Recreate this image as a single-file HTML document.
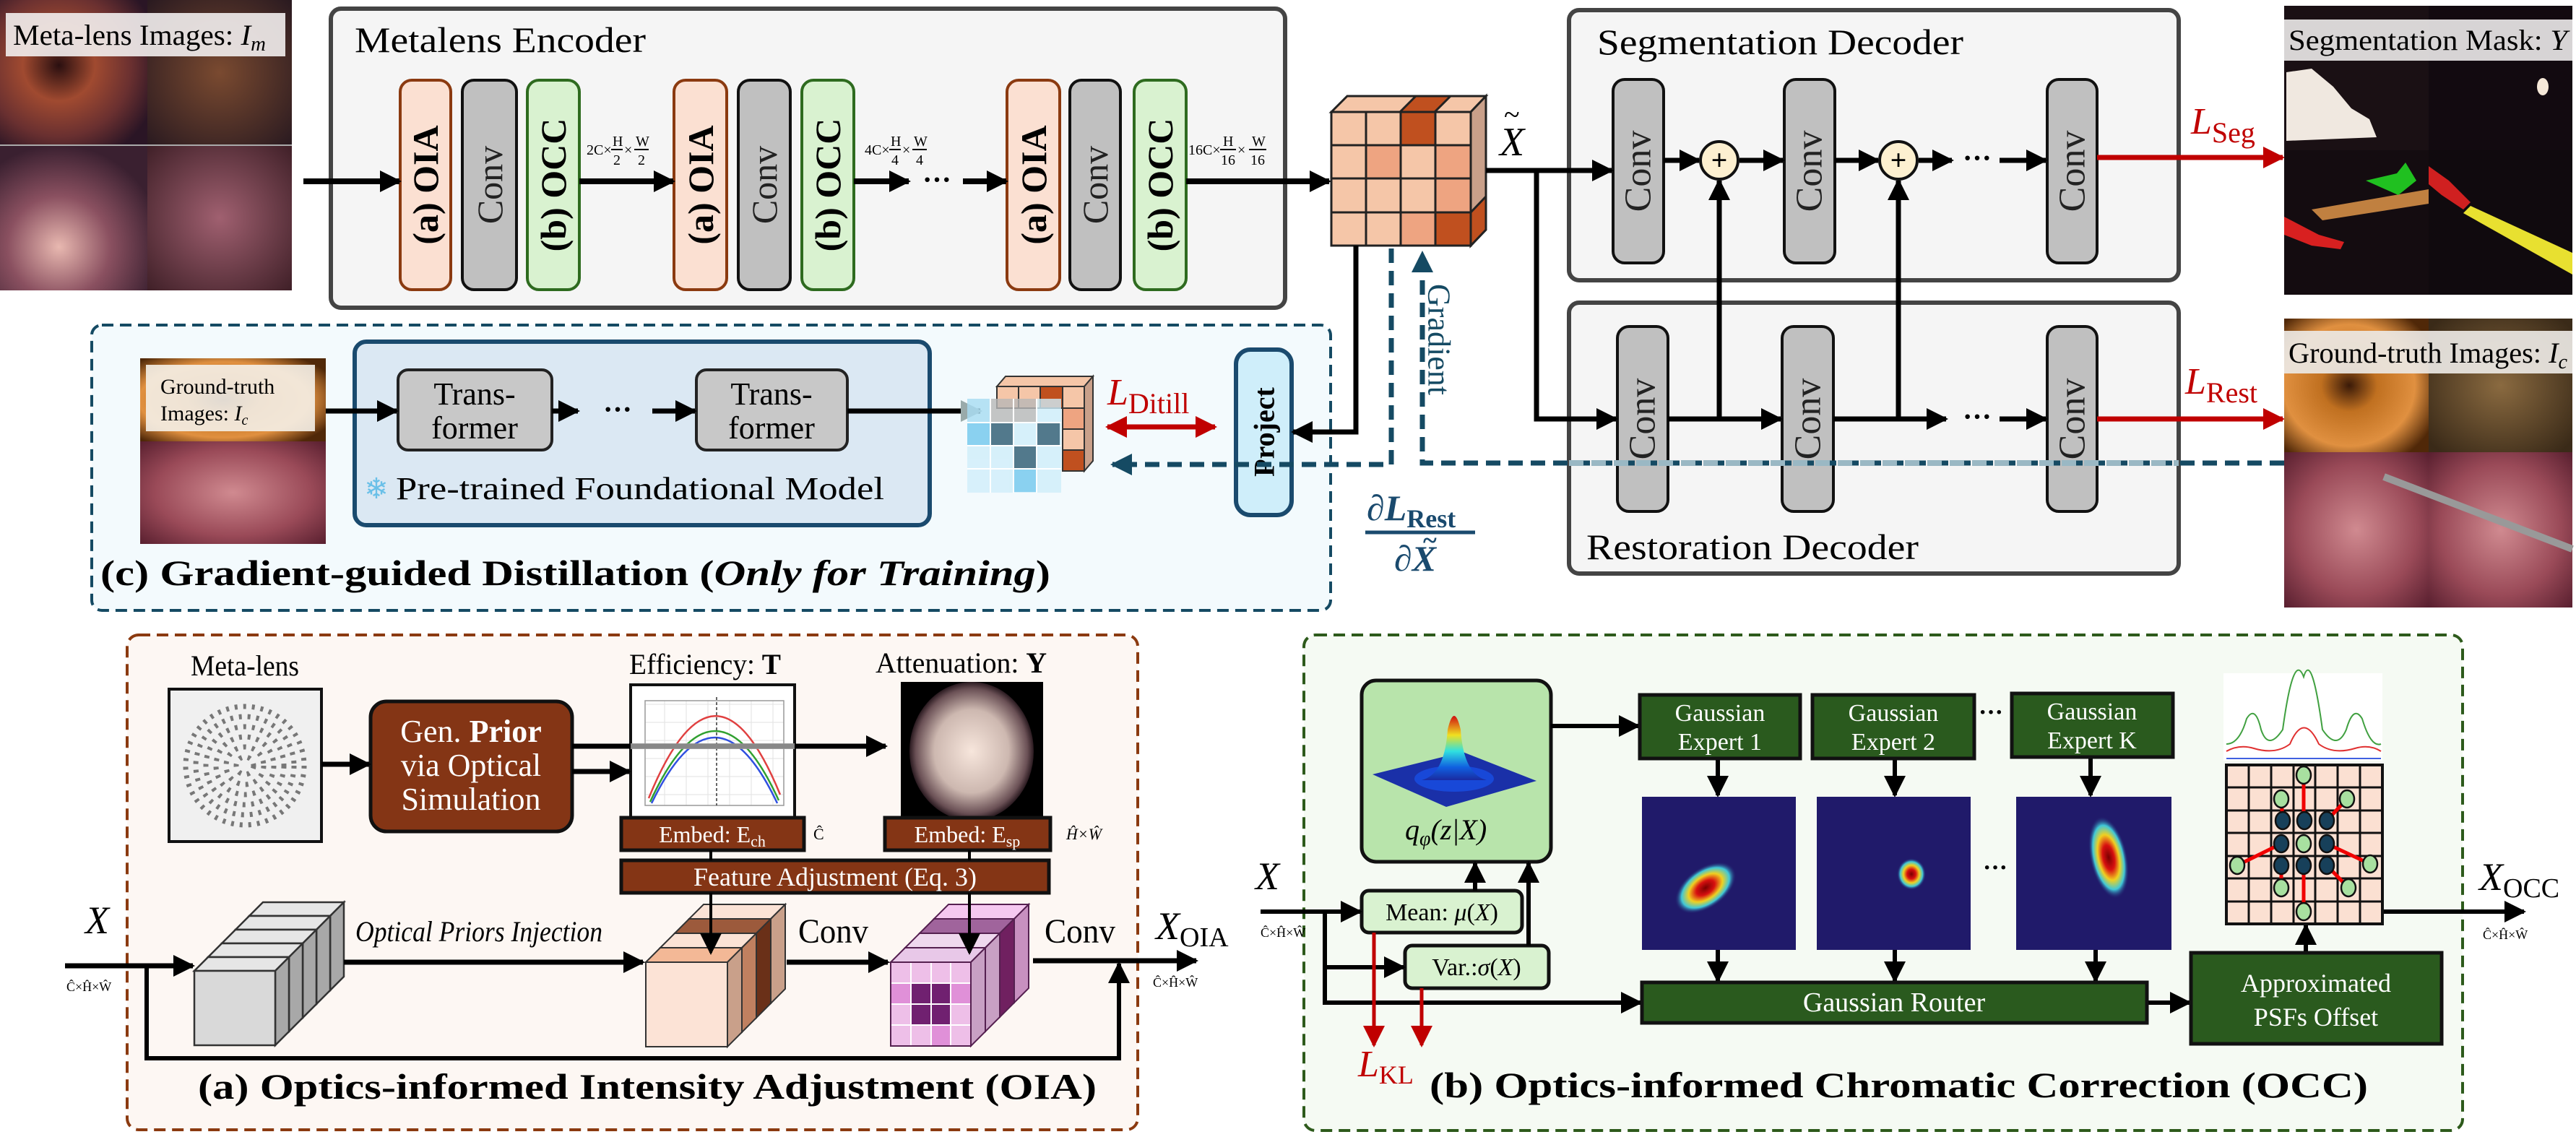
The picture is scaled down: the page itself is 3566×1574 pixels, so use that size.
<!DOCTYPE html>
<html><head><meta charset="utf-8"><style>
html,body{margin:0;padding:0;background:#fff}
svg{display:block}
text{font-family:"Liberation Serif",serif}
</style></head><body>
<svg width="3566" height="1574" viewBox="0 0 3566 1574" xmlns="http://www.w3.org/2000/svg">
<defs>
<marker id="ab" viewBox="0 0 10 10" refX="9" refY="5" markerWidth="30" markerHeight="30" markerUnits="userSpaceOnUse" orient="auto-start-reverse"><path d="M0,0 L10,5 L0,10 z" fill="#000"/></marker>
<marker id="ar" viewBox="0 0 10 10" refX="9" refY="5" markerWidth="30" markerHeight="30" markerUnits="userSpaceOnUse" orient="auto-start-reverse"><path d="M0,0 L10,5 L0,10 z" fill="#c00000"/></marker>
<marker id="at" viewBox="0 0 10 10" refX="9" refY="5" markerWidth="30" markerHeight="30" markerUnits="userSpaceOnUse" orient="auto-start-reverse"><path d="M0,0 L10,5 L0,10 z" fill="#154a63"/></marker>
<marker id="ag" viewBox="0 0 10 10" refX="9" refY="5" markerWidth="30" markerHeight="30" markerUnits="userSpaceOnUse" orient="auto"><path d="M0,0 L10,5 L0,10 z" fill="#9aa"/></marker>
<radialGradient id="p1" cx="40%" cy="45%" r="70%"><stop offset="0" stop-color="#2a0f10"/><stop offset=".35" stop-color="#a04a30"/><stop offset=".7" stop-color="#6a3030"/><stop offset="1" stop-color="#2a1525"/></radialGradient>
<radialGradient id="p2" cx="50%" cy="50%" r="70%"><stop offset="0" stop-color="#7a4a30"/><stop offset="1" stop-color="#2a1a20"/></radialGradient>
<radialGradient id="p3" cx="40%" cy="70%" r="70%"><stop offset="0" stop-color="#e8b8b0"/><stop offset=".5" stop-color="#8a5060"/><stop offset="1" stop-color="#3a2030"/></radialGradient>
<radialGradient id="p4" cx="50%" cy="50%" r="70%"><stop offset="0" stop-color="#a06070"/><stop offset="1" stop-color="#402028"/></radialGradient>
<radialGradient id="g1" cx="45%" cy="50%" r="65%"><stop offset="0" stop-color="#3a1a08"/><stop offset=".3" stop-color="#c07020"/><stop offset=".7" stop-color="#e09040"/><stop offset="1" stop-color="#502808"/></radialGradient>
<radialGradient id="g2" cx="50%" cy="50%" r="65%"><stop offset="0" stop-color="#8a6a40"/><stop offset="1" stop-color="#3a2a18"/></radialGradient>
<radialGradient id="g3" cx="50%" cy="50%" r="70%"><stop offset="0" stop-color="#d08a90"/><stop offset=".6" stop-color="#9a4a58"/><stop offset="1" stop-color="#5a2030"/></radialGradient>
<radialGradient id="att" cx="50%" cy="50%" r="50%"><stop offset="0" stop-color="#f7e6dc"/><stop offset=".6" stop-color="#cdb8b0"/><stop offset=".9" stop-color="#6a5055"/><stop offset="1" stop-color="#2a1a20"/></radialGradient>
<radialGradient id="hm" cx="50%" cy="50%" r="50%"><stop offset="0" stop-color="#7a0000"/><stop offset=".3" stop-color="#d81010"/><stop offset=".55" stop-color="#f0d020"/><stop offset=".78" stop-color="#40c8d8"/><stop offset="1" stop-color="#201a6a" stop-opacity="0"/></radialGradient>
<linearGradient id="cone" x1="0" y1="0" x2="0" y2="1"><stop offset="0" stop-color="#d01010"/><stop offset=".3" stop-color="#f0e020"/><stop offset=".55" stop-color="#30e0e0"/><stop offset=".8" stop-color="#1060e0"/><stop offset="1" stop-color="#1a2aa0"/></linearGradient>
</defs>

<!-- ===== Top-left metalens images ===== -->
<rect x="0" y="0" width="204" height="201" fill="url(#p1)"/>
<rect x="204" y="0" width="200" height="201" fill="url(#p2)"/>
<rect x="0" y="201" width="204" height="201" fill="url(#p3)"/>
<rect x="204" y="201" width="200" height="201" fill="url(#p4)"/>
<line x1="0" y1="201" x2="404" y2="201" stroke="#aaa" stroke-width="2"/>
<rect x="8" y="18" width="387" height="60" fill="#f2eeee" opacity=".9"/>
<text x="18" y="62" font-size="40" textLength="350" lengthAdjust="spacingAndGlyphs">Meta-lens Images: <tspan font-style="italic">I</tspan><tspan font-style="italic" font-size="28" dy="8">m</tspan></text>

<!-- ===== Metalens Encoder ===== -->
<rect x="458" y="12" width="1321" height="414" rx="14" fill="#f5f5f5" stroke="#444" stroke-width="6"/>
<text x="491" y="72" font-size="50" textLength="403" lengthAdjust="spacingAndGlyphs">Metalens Encoder</text>
<g stroke-width="4">
<rect x="554" y="111" width="70" height="290" rx="16" fill="#fbe0d2" stroke="#8b3a10"/>
<rect x="640" y="111" width="75" height="290" rx="16" fill="#c0c0c0" stroke="#111"/>
<rect x="730" y="111" width="72" height="290" rx="16" fill="#d9f2d0" stroke="#2e6b1f"/>
<rect x="933" y="111" width="73" height="290" rx="16" fill="#fbe0d2" stroke="#8b3a10"/>
<rect x="1022" y="111" width="72" height="290" rx="16" fill="#c0c0c0" stroke="#111"/>
<rect x="1110" y="111" width="72" height="290" rx="16" fill="#d9f2d0" stroke="#2e6b1f"/>
<rect x="1394" y="111" width="73" height="290" rx="16" fill="#fbe0d2" stroke="#8b3a10"/>
<rect x="1481" y="111" width="70" height="290" rx="16" fill="#c0c0c0" stroke="#111"/>
<rect x="1570" y="111" width="72" height="290" rx="16" fill="#d9f2d0" stroke="#2e6b1f"/>
</g>
<g font-size="50" text-anchor="middle" dominant-baseline="central">
<text transform="translate(589,256) rotate(-90)" font-weight="bold">(a) OIA</text>
<text transform="translate(678,256) rotate(-90)" fill="#222">Conv</text>
<text transform="translate(766,256) rotate(-90)" font-weight="bold">(b) OCC</text>
<text transform="translate(970,256) rotate(-90)" font-weight="bold">(a) OIA</text>
<text transform="translate(1058,256) rotate(-90)" fill="#222">Conv</text>
<text transform="translate(1146,256) rotate(-90)" font-weight="bold">(b) OCC</text>
<text transform="translate(1431,256) rotate(-90)" font-weight="bold">(a) OIA</text>
<text transform="translate(1516,256) rotate(-90)" fill="#222">Conv</text>
<text transform="translate(1606,256) rotate(-90)" font-weight="bold">(b) OCC</text>
</g>
<g stroke="#000" stroke-width="8" marker-end="url(#ab)">
<line x1="420" y1="251" x2="553" y2="251"/>
<line x1="802" y1="251" x2="932" y2="251"/>
<line x1="1182" y1="251" x2="1258" y2="251"/>
<line x1="1333" y1="251" x2="1393" y2="251"/>
<line x1="1642" y1="251" x2="1840" y2="251"/>
</g>
<text x="1297" y="262" font-size="40" text-anchor="middle" font-weight="bold">···</text>

<!-- fraction labels -->
<g font-size="20">
<g transform="translate(812,207)"><text x="0" y="7">2C×</text><text x="36" y="-5">H</text><line x1="34" y1="0" x2="50" y2="0" stroke="#000" stroke-width="2"/><text x="37" y="21">2</text><text x="52" y="7">×</text><text x="68" y="-5">W</text><line x1="66" y1="0" x2="86" y2="0" stroke="#000" stroke-width="2"/><text x="71" y="21">2</text></g>
<g transform="translate(1197,207)"><text x="0" y="7">4C×</text><text x="36" y="-5">H</text><line x1="34" y1="0" x2="50" y2="0" stroke="#000" stroke-width="2"/><text x="37" y="21">4</text><text x="52" y="7">×</text><text x="68" y="-5">W</text><line x1="66" y1="0" x2="86" y2="0" stroke="#000" stroke-width="2"/><text x="71" y="21">4</text></g>
<g transform="translate(1645,207)"><text x="0" y="7">16C×</text><text x="48" y="-5">H</text><line x1="44" y1="0" x2="66" y2="0" stroke="#000" stroke-width="2"/><text x="45" y="21">16</text><text x="68" y="7">×</text><text x="88" y="-5">W</text><line x1="84" y1="0" x2="108" y2="0" stroke="#000" stroke-width="2"/><text x="86" y="21">16</text></g>
<g transform="translate(2329,167)"><text x="0" y="7">8C×</text><text x="36" y="-5">H</text><line x1="34" y1="0" x2="50" y2="0" stroke="#000" stroke-width="2"/><text x="37" y="21">8</text><text x="52" y="7">×</text><text x="68" y="-5">W</text><line x1="66" y1="0" x2="86" y2="0" stroke="#000" stroke-width="2"/><text x="71" y="21">8</text></g>
<g transform="translate(2552,167)"><text x="0" y="7">4C×</text><text x="36" y="-5">H</text><line x1="34" y1="0" x2="50" y2="0" stroke="#000" stroke-width="2"/><text x="37" y="21">4</text><text x="52" y="7">×</text><text x="68" y="-5">W</text><line x1="66" y1="0" x2="86" y2="0" stroke="#000" stroke-width="2"/><text x="71" y="21">4</text></g>
<g transform="translate(2329,616)"><text x="0" y="7">8C×</text><text x="36" y="-5">H</text><line x1="34" y1="0" x2="50" y2="0" stroke="#000" stroke-width="2"/><text x="37" y="21">8</text><text x="52" y="7">×</text><text x="68" y="-5">W</text><line x1="66" y1="0" x2="86" y2="0" stroke="#000" stroke-width="2"/><text x="71" y="21">8</text></g>
<g transform="translate(2549,616)"><text x="0" y="7">4C×</text><text x="36" y="-5">H</text><line x1="34" y1="0" x2="50" y2="0" stroke="#000" stroke-width="2"/><text x="37" y="21">4</text><text x="52" y="7">×</text><text x="68" y="-5">W</text><line x1="66" y1="0" x2="86" y2="0" stroke="#000" stroke-width="2"/><text x="71" y="21">4</text></g>
<text x="2920" y="186">N×H×W</text>
<text x="2922" y="620">3×H×W</text>
</g>

<!-- ===== Cube X~ ===== -->
<g stroke="#222" stroke-width="3">
<polygon points="1843,155 1865,133 2057,133 2036,155" fill="#f5c6a8"/>
<polygon points="1938,155 1960,133 2008,133 1986,155" fill="#c0501f"/>
<polygon points="2036,155 2057,133 2057,318 2036,340" fill="#c9a08a"/>
<polygon points="2036,294 2057,272 2057,318 2036,340" fill="#c0501f"/>
<rect x="1843" y="155" width="48" height="46" fill="#f5c6a8"/><rect x="1891" y="155" width="48" height="46" fill="#f5c6a8"/><rect x="1939" y="155" width="48" height="46" fill="#c0501f"/><rect x="1987" y="155" width="49" height="46" fill="#f5c6a8"/>
<rect x="1843" y="201" width="48" height="46" fill="#f5c6a8"/><rect x="1891" y="201" width="48" height="46" fill="#eea481"/><rect x="1939" y="201" width="48" height="46" fill="#f5c6a8"/><rect x="1987" y="201" width="49" height="46" fill="#eea481"/>
<rect x="1843" y="247" width="48" height="47" fill="#f5c6a8"/><rect x="1891" y="247" width="48" height="47" fill="#f5c6a8"/><rect x="1939" y="247" width="48" height="47" fill="#f5c6a8"/><rect x="1987" y="247" width="49" height="47" fill="#eea481"/>
<rect x="1843" y="294" width="48" height="46" fill="#f5c6a8"/><rect x="1891" y="294" width="48" height="46" fill="#f5c6a8"/><rect x="1939" y="294" width="48" height="46" fill="#eea481"/><rect x="1987" y="294" width="49" height="46" fill="#c0501f"/>
</g>
<text x="2076" y="215" font-size="56" font-style="italic">X</text>
<text x="2082" y="172" font-size="40">~</text>

<!-- ===== Segmentation Decoder ===== -->
<rect x="2172" y="14" width="844" height="374" rx="14" fill="#f5f5f5" stroke="#444" stroke-width="6"/>
<text x="2211" y="75" font-size="50" textLength="507" lengthAdjust="spacingAndGlyphs">Segmentation Decoder</text>
<g stroke-width="4" fill="#c0c0c0" stroke="#111">
<rect x="2233" y="110" width="70" height="254" rx="16"/>
<rect x="2470" y="110" width="70" height="254" rx="16"/>
<rect x="2834" y="110" width="69" height="254" rx="16"/>
</g>
<!-- ===== Restoration Decoder ===== -->
<rect x="2172" y="419" width="844" height="375" rx="14" fill="#f5f5f5" stroke="#444" stroke-width="6"/>
<text x="2196" y="774" font-size="50" textLength="460" lengthAdjust="spacingAndGlyphs">Restoration Decoder</text>
<g stroke-width="4" fill="#c0c0c0" stroke="#111">
<rect x="2239" y="452" width="70" height="256" rx="16"/>
<rect x="2467" y="452" width="71" height="256" rx="16"/>
<rect x="2834" y="452" width="69" height="256" rx="16"/>
</g>
<g font-size="52" text-anchor="middle" dominant-baseline="central" fill="#222">
<text transform="translate(2268,237) rotate(-90)">Conv</text>
<text transform="translate(2505,237) rotate(-90)">Conv</text>
<text transform="translate(2869,237) rotate(-90)">Conv</text>
<text transform="translate(2274,580) rotate(-90)">Conv</text>
<text transform="translate(2503,580) rotate(-90)">Conv</text>
<text transform="translate(2869,580) rotate(-90)">Conv</text>
</g>
<g stroke="#000" stroke-width="7" fill="none">
<polyline points="2057,236 2231,236" marker-end="url(#ab)"/>
<polyline points="2127,236 2127,580 2237,580" marker-end="url(#ab)"/>
<line x1="2303" y1="222" x2="2352" y2="222" marker-end="url(#ab)"/>
<line x1="2408" y1="222" x2="2468" y2="222" marker-end="url(#ab)"/>
<line x1="2540" y1="222" x2="2600" y2="222" marker-end="url(#ab)"/>
<line x1="2656" y1="222" x2="2702" y2="222" marker-end="url(#ab)"/>
<line x1="2768" y1="222" x2="2832" y2="222" marker-end="url(#ab)"/>
<line x1="2309" y1="580" x2="2465" y2="580" marker-end="url(#ab)"/>
<line x1="2538" y1="580" x2="2694" y2="580" marker-end="url(#ab)"/>
<line x1="2768" y1="580" x2="2832" y2="580" marker-end="url(#ab)"/>
<line x1="2380" y1="580" x2="2380" y2="250" marker-end="url(#ab)"/>
<line x1="2628" y1="580" x2="2628" y2="250" marker-end="url(#ab)"/>
</g>
<g font-size="40" font-weight="bold" text-anchor="middle"><text x="2737" y="232">···</text><text x="2737" y="590">···</text></g>
<g stroke="#111" stroke-width="4" fill="#fdf0d0"><circle cx="2380" cy="222" r="26"/><circle cx="2628" cy="222" r="26"/></g>
<g font-size="40" text-anchor="middle" font-weight="bold"><text x="2380" y="235">+</text><text x="2628" y="235">+</text></g>
<g stroke="#c00000" stroke-width="7"><line x1="2903" y1="218" x2="3160" y2="218" marker-end="url(#ar)"/><line x1="2903" y1="580" x2="3160" y2="580" marker-end="url(#ar)"/></g>
<text x="3033" y="185" font-size="52" font-style="italic" fill="#c00000">L<tspan font-style="normal" font-size="40" dy="12">Seg</tspan></text>
<text x="3025" y="545" font-size="52" font-style="italic" fill="#c00000">L<tspan font-style="normal" font-size="40" dy="12">Rest</tspan></text>

<!-- seg mask image -->
<rect x="3162" y="8" width="399" height="400" fill="#120a10"/>
<rect x="3162" y="8" width="200" height="200" fill="#1a1014"/>
<path d="M3165,100 L3200,95 L3230,120 L3255,150 L3280,165 L3290,190 L3165,195 Z" fill="#f0e8e0"/>
<ellipse cx="3520" cy="120" rx="8" ry="12" fill="#f5e8d8"/>
<rect x="3162" y="208" width="200" height="200" fill="#140c10"/>
<rect x="3362" y="208" width="199" height="200" fill="#100a0e"/>
<path d="M3162,300 L3210,325 L3245,335 L3240,345 L3200,340 L3162,325 Z" fill="#d82020"/>
<path d="M3200,290 L3362,262 L3362,282 L3215,305 Z" fill="#c08040"/>
<path d="M3275,250 L3318,240 L3330,225 L3345,250 L3320,270 Z" fill="#20c020"/>
<path d="M3362,230 L3390,250 L3420,280 L3410,290 L3380,270 L3362,255 Z" fill="#d02020"/>
<path d="M3420,285 L3561,350 L3561,380 L3410,295 Z" fill="#e8e030"/>
<rect x="3162" y="27" width="399" height="57" fill="#e8e6e6" opacity=".92"/>
<text x="3168" y="69" font-size="40" textLength="386" lengthAdjust="spacingAndGlyphs">Segmentation Mask: <tspan font-style="italic">Y</tspan></text>

<!-- GT image right -->
<rect x="3162" y="441" width="200" height="185" fill="url(#g1)"/>
<rect x="3362" y="441" width="199" height="185" fill="url(#g2)"/>
<rect x="3162" y="626" width="200" height="215" fill="url(#g3)"/>
<rect x="3362" y="626" width="199" height="215" fill="url(#g3)"/>
<line x1="3300" y1="660" x2="3561" y2="760" stroke="#999" stroke-width="10"/>
<rect x="3162" y="458" width="399" height="59" fill="#ece8e4" opacity=".92"/>
<text x="3168" y="502" font-size="40" textLength="386" lengthAdjust="spacingAndGlyphs">Ground-truth Images: <tspan font-style="italic">I</tspan><tspan font-style="italic" font-size="28" dy="8">c</tspan></text>

<!-- ===== Distillation box ===== -->
<rect x="127" y="450" width="1715" height="395" rx="14" fill="#f3fafd" stroke="#154a63" stroke-width="4" stroke-dasharray="16 9"/>
<rect x="194" y="496" width="257" height="115" fill="url(#g1)"/>
<rect x="194" y="611" width="257" height="142" fill="url(#g3)"/>
<rect x="202" y="505" width="234" height="92" fill="#f4efe8" opacity=".9"/>
<text x="222" y="545" font-size="30">Ground-truth</text>
<text x="222" y="582" font-size="30">Images: <tspan font-style="italic">I</tspan><tspan font-style="italic" font-size="20" dy="6">c</tspan></text>
<rect x="491" y="473" width="796" height="254" rx="16" fill="#dbe8f3" stroke="#1a4a6e" stroke-width="6"/>
<rect x="551" y="512" width="213" height="111" rx="14" fill="#c8c8c8" stroke="#222" stroke-width="4"/>
<rect x="964" y="512" width="209" height="111" rx="14" fill="#c8c8c8" stroke="#222" stroke-width="4"/>
<g font-size="44" text-anchor="middle"><text x="657" y="560">Trans-</text><text x="657" y="607">former</text><text x="1068" y="560">Trans-</text><text x="1068" y="607">former</text></g>
<text x="521" y="690" font-size="40" fill="#6ac0e8" text-anchor="middle">❄</text>
<text x="548" y="691" font-size="44" textLength="676" lengthAdjust="spacingAndGlyphs">Pre-trained Foundational Model</text>
<g stroke="#000" stroke-width="7">
<line x1="451" y1="569" x2="549" y2="569" marker-end="url(#ab)"/>
<line x1="764" y1="569" x2="800" y2="569" marker-end="url(#ab)"/>
<line x1="903" y1="569" x2="962" y2="569" marker-end="url(#ab)"/>
<line x1="1173" y1="569" x2="1357" y2="569" marker-end="url(#ag)"/>
</g>
<text x="855" y="580" font-size="40" font-weight="bold" text-anchor="middle">···</text>
<!-- feature cube -->
<g stroke="#333" stroke-width="2">
<polygon points="1380,535 1392,521 1513,521 1501,535" fill="#f5c6a8"/>
<polygon points="1501,535 1513,521 1513,638 1501,652" fill="#c9a08a"/>
<rect x="1380" y="535" width="30" height="30" fill="#f5c6a8"/><rect x="1410" y="535" width="30" height="30" fill="#f5c6a8"/><rect x="1440" y="535" width="31" height="30" fill="#c0501f"/><rect x="1471" y="535" width="30" height="30" fill="#f5c6a8"/>
<rect x="1471" y="565" width="30" height="29" fill="#eea481"/><rect x="1471" y="594" width="30" height="29" fill="#f5c6a8"/><rect x="1471" y="623" width="30" height="29" fill="#c0501f"/>
</g>
<g opacity=".8">
<rect x="1339" y="552" width="130" height="130" fill="#cfeefa"/>
<rect x="1339" y="585" width="32" height="32" fill="#70c8ee"/>
<rect x="1371" y="585" width="32" height="32" fill="#2a5a70"/>
<rect x="1435" y="585" width="32" height="32" fill="#2a5a70"/>
<rect x="1403" y="617" width="32" height="32" fill="#2a5a70"/>
<rect x="1403" y="649" width="32" height="32" fill="#70c8ee"/>
<rect x="1339" y="552" width="32" height="32" fill="#a8ddf3"/>
<rect x="1371" y="552" width="32" height="32" fill="#b8b8b8"/>
<rect x="1403" y="552" width="32" height="32" fill="#b8b8b8"/>
</g>
<g stroke="#fff" stroke-width="2" fill="none"><path d="M1371,552V682M1403,552V682M1435,552V682M1339,585H1469M1339,617H1469M1339,649H1469"/></g>
<text x="1533" y="560" font-size="52" font-style="italic" fill="#c00000">L<tspan font-style="normal" font-size="40" dy="12">Ditill</tspan></text>
<line x1="1533" y1="591" x2="1682" y2="591" stroke="#c00000" stroke-width="7" marker-start="url(#ar)" marker-end="url(#ar)"/>
<rect x="1711" y="484" width="77" height="229" rx="20" fill="#cfeefa" stroke="#1a4a6e" stroke-width="6"/>
<text transform="translate(1750,598) rotate(-90)" font-size="40" font-weight="bold" text-anchor="middle" dominant-baseline="central">Project</text>
<polyline points="1877,340 1877,598 1790,598" fill="none" stroke="#000" stroke-width="7" marker-end="url(#ab)"/>
<polyline points="1926,344 1926,643 1540,643" fill="none" stroke="#154a63" stroke-width="7" stroke-dasharray="20 11" marker-end="url(#at)"/>
<polyline points="3162,641 1969,641 1969,350" fill="none" stroke="#154a63" stroke-width="7" stroke-dasharray="20 11" marker-end="url(#at)"/>
<line x1="2172" y1="641" x2="3016" y2="641" stroke="#9ab8c4" stroke-width="8" stroke-dasharray="20 11"/>
<text transform="translate(1992,470) rotate(90)" font-size="44" fill="#154a63" text-anchor="middle" dominant-baseline="central">Gradient</text>
<g fill="#1a4a6e" font-weight="bold">
<text x="1892" y="720" font-size="50" font-style="italic">∂L<tspan font-style="normal" font-size="36" dy="10">Rest</tspan></text>
<line x1="1890" y1="737" x2="2042" y2="737" stroke="#1a4a6e" stroke-width="5"/>
<text x="1930" y="790" font-size="50" font-style="italic">∂X</text>
<text x="1970" y="760" font-size="36">~</text>
</g>
<text x="139" y="810" font-size="50" font-weight="bold" textLength="1315" lengthAdjust="spacingAndGlyphs">(c) Gradient-guided Distillation (<tspan font-style="italic">Only for Training</tspan>)</text>

<!-- ===== OIA box ===== -->
<rect x="176" y="879" width="1399" height="685" rx="16" fill="#fdf7f3" stroke="#8b3a10" stroke-width="4" stroke-dasharray="16 9"/>
<text x="264" y="935" font-size="40" textLength="150" lengthAdjust="spacingAndGlyphs">Meta-lens</text>
<rect x="234" y="954" width="211" height="211" fill="#f0f0f0" stroke="#111" stroke-width="4"/>
<g fill="none" stroke="#777" stroke-width="7" stroke-dasharray="4 8">
<circle cx="339" cy="1060" r="12"/><circle cx="339" cy="1060" r="26"/><circle cx="339" cy="1060" r="40"/><circle cx="339" cy="1060" r="54"/><circle cx="339" cy="1060" r="68"/><circle cx="339" cy="1060" r="82"/>
</g>
<rect x="513" y="971" width="279" height="180" rx="22" fill="#843515" stroke="#111" stroke-width="5"/>
<g font-size="44" fill="#fff" text-anchor="middle"><text x="652" y="1027">Gen. <tspan font-weight="bold">Prior</tspan></text><text x="652" y="1074">via Optical</text><text x="652" y="1121">Simulation</text></g>
<line x1="445" y1="1058" x2="511" y2="1058" stroke="#000" stroke-width="7" marker-end="url(#ab)"/>
<text x="871" y="933" font-size="40" textLength="210" lengthAdjust="spacingAndGlyphs">Efficiency: <tspan font-weight="bold">T</tspan></text>
<text x="1212" y="931" font-size="40" textLength="237" lengthAdjust="spacingAndGlyphs">Attenuation: <tspan font-weight="bold">Y</tspan></text>
<rect x="873" y="948" width="227" height="184" fill="#fff" stroke="#111" stroke-width="4"/>
<g stroke="#e2e2e2" stroke-width="1"><path d="M893,975H1085M893,1000H1085M893,1025H1085M893,1050H1085M893,1075H1085M893,1100H1085M920,970V1115M950,970V1115M980,970V1115M1010,970V1115M1040,970V1115M1070,970V1115"/></g>
<rect x="893" y="970" width="192" height="145" fill="none" stroke="#999" stroke-width="1.5"/>
<g fill="none" stroke-width="2.5"><path d="M898,1105 Q990,880 1080,1100" stroke="#e04040"/><path d="M900,1110 Q990,915 1078,1108" stroke="#30a030"/><path d="M902,1112 Q990,930 1076,1112" stroke="#3050e0"/></g>
<line x1="992" y1="965" x2="992" y2="1115" stroke="#333" stroke-width="1.5" stroke-dasharray="4 3"/>
<rect x="1247" y="944" width="197" height="189" fill="#000"/>
<ellipse cx="1345" cy="1040" rx="86" ry="96" fill="url(#att)"/>
<line x1="792" y1="1033" x2="1226" y2="1033" stroke="#000" stroke-width="7" marker-end="url(#ab)"/>
<line x1="873" y1="1033" x2="1100" y2="1033" stroke="#aaa" stroke-width="8" opacity=".8"/>
<line x1="792" y1="1068" x2="871" y2="1068" stroke="#000" stroke-width="7" marker-end="url(#ab)"/>
<rect x="860" y="1132" width="253" height="45" fill="#843515" stroke="#111" stroke-width="5"/>
<rect x="1225" y="1132" width="229" height="45" fill="#843515" stroke="#111" stroke-width="5"/>
<rect x="860" y="1191" width="592" height="45" fill="#843515" stroke="#111" stroke-width="5"/>
<g font-size="32" fill="#fff" text-anchor="middle"><text x="986" y="1166">Embed: E<tspan font-size="22" dy="6">ch</tspan></text><text x="1339" y="1166">Embed: E<tspan font-size="22" dy="6">sp</tspan></text><text x="1156" y="1226" font-size="36">Feature Adjustment (Eq. 3)</text></g>
<text x="1126" y="1162" font-size="22">Ĉ</text>
<text x="1476" y="1162" font-size="22" font-style="italic">Ĥ×Ŵ</text>
<g stroke="#000" stroke-width="4"><line x1="984" y1="1177" x2="984" y2="1191"/><line x1="1342" y1="1177" x2="1342" y2="1191"/></g>
<!-- gray stack -->
<g stroke="#333" stroke-width="2.5">
<g transform="translate(76,-76)"><polygon points="269,1344 288,1325 400,1325 381,1344" fill="#e6e6e6"/><polygon points="381,1344 400,1325 400,1428 381,1447" fill="#a8a8a8"/><rect x="269" y="1344" width="112" height="103" fill="#d9d9d9"/></g>
<g transform="translate(57,-57)"><polygon points="269,1344 288,1325 400,1325 381,1344" fill="#e6e6e6"/><polygon points="381,1344 400,1325 400,1428 381,1447" fill="#a8a8a8"/><rect x="269" y="1344" width="112" height="103" fill="#d9d9d9"/></g>
<g transform="translate(38,-38)"><polygon points="269,1344 288,1325 400,1325 381,1344" fill="#e6e6e6"/><polygon points="381,1344 400,1325 400,1428 381,1447" fill="#a8a8a8"/><rect x="269" y="1344" width="112" height="103" fill="#d9d9d9"/></g>
<g transform="translate(19,-19)"><polygon points="269,1344 288,1325 400,1325 381,1344" fill="#e6e6e6"/><polygon points="381,1344 400,1325 400,1428 381,1447" fill="#a8a8a8"/><rect x="269" y="1344" width="112" height="103" fill="#d9d9d9"/></g>
<g><polygon points="269,1344 288,1325 400,1325 381,1344" fill="#e6e6e6"/><polygon points="381,1344 400,1325 400,1428 381,1447" fill="#a8a8a8"/><rect x="269" y="1344" width="112" height="103" fill="#d9d9d9"/></g>
</g>
<!-- peach cube -->
<g stroke="#333" stroke-width="2">
<g transform="translate(60,-60)"><polygon points="894,1332 914,1312 1027,1312 1007,1332" fill="#fbe3d6"/><polygon points="1007,1332 1027,1312 1027,1429 1007,1449" fill="#c9a08a"/><rect x="894" y="1332" width="113" height="117" fill="#fbe3d6"/></g>
<g transform="translate(40,-40)"><polygon points="894,1332 914,1312 1027,1312 1007,1332" fill="#9c5a3c"/><polygon points="1007,1332 1027,1312 1027,1429 1007,1449" fill="#6a3018"/><rect x="894" y="1332" width="113" height="117" fill="#9c5a3c"/></g>
<g transform="translate(20,-20)"><polygon points="894,1332 914,1312 1027,1312 1007,1332" fill="#fbe3d6"/><polygon points="1007,1332 1027,1312 1027,1429 1007,1449" fill="#c08060"/><rect x="894" y="1332" width="113" height="117" fill="#fbe3d6"/></g>
<g><polygon points="894,1332 914,1312 1027,1312 1007,1332" fill="#f3b896"/><polygon points="1007,1332 1027,1312 1027,1429 1007,1449" fill="#c9a08a"/><rect x="894" y="1332" width="113" height="117" fill="#fce3d6"/></g>
</g>
<!-- purple cube -->
<g stroke="#552050" stroke-width="2">
<g transform="translate(60,-60)"><polygon points="1233,1332 1253,1312 1364,1312 1344,1332" fill="#f5c8f0"/><polygon points="1344,1332 1364,1312 1364,1428 1344,1448" fill="#c890c0"/><rect x="1233" y="1332" width="111" height="116" fill="#f0d0ee"/></g>
<g transform="translate(40,-40)"><polygon points="1233,1332 1253,1312 1364,1312 1344,1332" fill="#a0649c"/><polygon points="1344,1332 1364,1312 1364,1428 1344,1448" fill="#702060"/><rect x="1233" y="1332" width="111" height="116" fill="#a0649c"/></g>
<g transform="translate(20,-20)"><polygon points="1233,1332 1253,1312 1364,1312 1344,1332" fill="#efd8ee"/><polygon points="1344,1332 1364,1312 1364,1428 1344,1448" fill="#c8a0c4"/><rect x="1233" y="1332" width="111" height="116" fill="#efd8ee"/></g>
<g><polygon points="1233,1332 1253,1312 1364,1312 1344,1332" fill="#e8c8e8"/><polygon points="1344,1332 1364,1312 1364,1428 1344,1448" fill="#c8a0c4"/><rect x="1233" y="1332" width="111" height="116" fill="#eebfe8"/>
<rect x="1233" y="1361" width="28" height="29" fill="#e090d8"/><rect x="1261" y="1361" width="28" height="29" fill="#702070"/><rect x="1289" y="1361" width="27" height="29" fill="#702070"/><rect x="1316" y="1361" width="28" height="29" fill="#e090d8"/>
<rect x="1261" y="1390" width="28" height="29" fill="#702070"/><rect x="1289" y="1390" width="27" height="29" fill="#702070"/>
<rect x="1289" y="1419" width="27" height="29" fill="#e090d8"/>
<path d="M1261,1332V1448M1289,1332V1448M1316,1332V1448M1233,1361H1344M1233,1390H1344M1233,1419H1344" fill="none" stroke="#fff" stroke-width="2"/>
<rect x="1233" y="1332" width="111" height="116" fill="none"/></g>
</g>
<g stroke="#000" stroke-width="4" fill="none"><line x1="984" y1="1236" x2="984" y2="1319" marker-end="url(#ab)"/><line x1="1342" y1="1236" x2="1342" y2="1319" marker-end="url(#ab)"/></g>
<text x="492" y="1303" font-size="40" font-style="italic" textLength="342" lengthAdjust="spacingAndGlyphs">Optical Priors Injection</text>
<text x="1105" y="1305" font-size="48" textLength="97" lengthAdjust="spacingAndGlyphs">Conv</text>
<text x="1446" y="1305" font-size="48" textLength="98" lengthAdjust="spacingAndGlyphs">Conv</text>
<g stroke="#000" stroke-width="7" fill="none">
<line x1="90" y1="1337" x2="267" y2="1337" marker-end="url(#ab)"/>
<line x1="476" y1="1332" x2="890" y2="1332" marker-end="url(#ab)"/>
<line x1="1089" y1="1332" x2="1229" y2="1332" marker-end="url(#ab)"/>
<line x1="1430" y1="1330" x2="1656" y2="1330" marker-end="url(#ab)"/>
<polyline points="203,1337 203,1465 1549,1465 1549,1334" stroke-width="6" marker-end="url(#ab)"/>
</g>
<text x="118" y="1292" font-size="54" font-style="italic">X</text>
<text x="92" y="1372" font-size="18">Ĉ×Ĥ×Ŵ</text>
<text x="1600" y="1300" font-size="54" font-style="italic">X<tspan font-style="normal" font-size="38" dy="10">OIA</tspan></text>
<text x="1596" y="1366" font-size="18">Ĉ×Ĥ×Ŵ</text>
<text x="274" y="1521" font-size="50" font-weight="bold" textLength="1244" lengthAdjust="spacingAndGlyphs">(a) Optics-informed Intensity Adjustment (OIA)</text>

<!-- ===== OCC box ===== -->
<rect x="1805" y="879" width="1604" height="686" rx="16" fill="#f5faf3" stroke="#2d5a1b" stroke-width="4" stroke-dasharray="16 9"/>
<rect x="1885" y="942" width="262" height="251" rx="20" fill="#b8e4ab" stroke="#111" stroke-width="5"/>
<polygon points="1900,1072 2002,1117 2127,1081 2025,1041" fill="#1a30a8"/>
<ellipse cx="2013" cy="1078" rx="55" ry="18" fill="#1848d8"/>
<path d="M1968,1080 Q2000,1072 2004,1010 Q2013,972 2022,1010 Q2026,1072 2058,1080 Z" fill="url(#cone)"/>
<text x="1945" y="1162" font-size="40" font-style="italic">q<tspan font-size="28" dy="8">φ</tspan><tspan dy="-8">(z|X)</tspan></text>
<rect x="1885" y="1233" width="222" height="58" rx="10" fill="#d9f2d0" stroke="#111" stroke-width="5"/>
<rect x="1945" y="1309" width="199" height="59" rx="10" fill="#d9f2d0" stroke="#111" stroke-width="5"/>
<text x="1996" y="1274" font-size="34" text-anchor="middle">Mean: <tspan font-style="italic">μ</tspan>(<tspan font-style="italic">X</tspan>)</text>
<text x="2044" y="1350" font-size="34" text-anchor="middle">Var.:<tspan font-style="italic">σ</tspan>(<tspan font-style="italic">X</tspan>)</text>
<g stroke="#000" stroke-width="6" fill="none">
<line x1="1745" y1="1262" x2="1883" y2="1262" marker-end="url(#ab)"/>
<polyline points="1834,1262 1834,1339 1943,1339" marker-end="url(#ab)"/>
<polyline points="1834,1339 1834,1388 2271,1388" marker-end="url(#ab)"/>
<line x1="2042" y1="1233" x2="2042" y2="1195" marker-end="url(#ab)"/>
<line x1="2116" y1="1309" x2="2116" y2="1195" marker-end="url(#ab)"/>
<line x1="2147" y1="1005" x2="2268" y2="1005" marker-end="url(#ab)"/>
<line x1="2378" y1="1050" x2="2378" y2="1101" marker-end="url(#ab)"/>
<line x1="2623" y1="1050" x2="2623" y2="1101" marker-end="url(#ab)"/>
<line x1="2894" y1="1048" x2="2894" y2="1101" marker-end="url(#ab)"/>
<line x1="2378" y1="1315" x2="2378" y2="1358" marker-end="url(#ab)"/>
<line x1="2623" y1="1315" x2="2623" y2="1358" marker-end="url(#ab)"/>
<line x1="2901" y1="1315" x2="2901" y2="1358" marker-end="url(#ab)"/>
<line x1="2972" y1="1388" x2="3031" y2="1388" marker-end="url(#ab)"/>
<line x1="3192" y1="1319" x2="3192" y2="1281" marker-end="url(#ab)"/>
<line x1="3298" y1="1262" x2="3494" y2="1262" marker-end="url(#ab)"/>
</g>
<g stroke="#c00000" stroke-width="5"><line x1="1902" y1="1291" x2="1902" y2="1447" marker-end="url(#ar)"/><line x1="1968" y1="1368" x2="1968" y2="1447" marker-end="url(#ar)"/></g>
<text x="1880" y="1490" font-size="52" font-style="italic" fill="#c00000">L<tspan font-style="normal" font-size="36" dy="10">KL</tspan></text>
<g fill="#2a5a1e" stroke="#111" stroke-width="5">
<rect x="2270" y="962" width="222" height="88"/><rect x="2509" y="962" width="224" height="88"/><rect x="2785" y="960" width="223" height="88"/>
<rect x="2273" y="1360" width="699" height="56"/><rect x="3033" y="1319" width="347" height="126"/>
</g>
<g fill="#fff" font-size="34" text-anchor="middle">
<text x="2381" y="998">Gaussian</text><text x="2381" y="1038">Expert 1</text>
<text x="2621" y="998">Gaussian</text><text x="2621" y="1038">Expert 2</text>
<text x="2896" y="996">Gaussian</text><text x="2896" y="1036">Expert K</text>
<text x="2622" y="1400" font-size="38">Gaussian Router</text>
<text x="3206" y="1373" font-size="36">Approximated</text><text x="3206" y="1420" font-size="36">PSFs Offset</text>
</g>
<g font-size="34" font-weight="bold" text-anchor="middle"><text x="2756" y="997">···</text><text x="2762" y="1212">···</text></g>
<rect x="2273" y="1103" width="213" height="212" fill="#201a6a"/>
<rect x="2515" y="1103" width="213" height="212" fill="#201a6a"/>
<rect x="2791" y="1103" width="215" height="212" fill="#201a6a"/>
<ellipse cx="2361" cy="1229" rx="48" ry="28" transform="rotate(-35 2361 1229)" fill="url(#hm)"/>
<ellipse cx="2646" cy="1210" rx="20" ry="22" fill="url(#hm)"/>
<ellipse cx="2919" cy="1187" rx="26" ry="58" transform="rotate(-12 2919 1187)" fill="url(#hm)"/>
<!-- plot + grid -->
<rect x="3078" y="932" width="220" height="121" fill="#fff"/>
<path d="M3082,1030 Q3100,1030 3110,995 Q3122,975 3130,1010 Q3140,1040 3160,1010 Q3175,900 3189,937 Q3200,900 3215,1010 Q3235,1040 3248,1010 Q3258,975 3270,995 Q3282,1035 3296,1030" fill="none" stroke="#40a040" stroke-width="2"/>
<path d="M3082,1040 Q3100,1030 3120,1036 Q3150,1045 3170,1030 Q3189,985 3210,1030 Q3230,1045 3260,1036 Q3280,1030 3296,1040" fill="none" stroke="#e03030" stroke-width="2"/>
<line x1="3082" y1="1050" x2="3296" y2="1050" stroke="#4060e0" stroke-width="2"/>
<rect x="3082" y="1059" width="216" height="220" fill="#fbe0d2" stroke="#111" stroke-width="4"/>
<path d="M3113,1059V1279M3144,1059V1279M3175,1059V1279M3205,1059V1279M3236,1059V1279M3267,1059V1279M3082,1090H3298M3082,1122H3298M3082,1153H3298M3082,1185H3298M3082,1216H3298M3082,1248H3298" stroke="#111" stroke-width="3" fill="none"/>
<g stroke="#f00000" stroke-width="5"><line x1="3189" y1="1073" x2="3189" y2="1136"/><line x1="3158" y1="1106" x2="3160" y2="1136"/><line x1="3249" y1="1106" x2="3221" y2="1136"/><line x1="3097" y1="1198" x2="3158" y2="1168"/><line x1="3281" y1="1196" x2="3221" y2="1168"/><line x1="3158" y1="1229" x2="3158" y2="1198"/><line x1="3189" y1="1262" x2="3189" y2="1198"/><line x1="3251" y1="1229" x2="3221" y2="1198"/></g>
<g fill="#a8e0a0" stroke="#111" stroke-width="2.5"><ellipse cx="3189" cy="1073" rx="10" ry="12"/><ellipse cx="3158" cy="1106" rx="10" ry="12"/><ellipse cx="3249" cy="1106" rx="10" ry="12"/><ellipse cx="3189" cy="1168" rx="10" ry="12"/><ellipse cx="3097" cy="1198" rx="10" ry="12"/><ellipse cx="3281" cy="1196" rx="10" ry="12"/><ellipse cx="3158" cy="1229" rx="10" ry="12"/><ellipse cx="3251" cy="1229" rx="10" ry="12"/><ellipse cx="3189" cy="1262" rx="10" ry="12"/></g>
<g fill="#17405a" stroke="#111" stroke-width="2.5"><ellipse cx="3160" cy="1136" rx="10" ry="12"/><ellipse cx="3190" cy="1136" rx="10" ry="12"/><ellipse cx="3221" cy="1136" rx="10" ry="12"/><ellipse cx="3158" cy="1168" rx="10" ry="12"/><ellipse cx="3221" cy="1168" rx="10" ry="12"/><ellipse cx="3158" cy="1198" rx="10" ry="12"/><ellipse cx="3189" cy="1198" rx="10" ry="12"/><ellipse cx="3221" cy="1198" rx="10" ry="12"/></g>
<text x="1738" y="1231" font-size="54" font-style="italic">X</text>
<text x="1745" y="1297" font-size="18">Ĉ×Ĥ×Ŵ</text>
<text x="3432" y="1232" font-size="54" font-style="italic">X<tspan font-style="normal" font-size="38" dy="10">OCC</tspan></text>
<text x="3437" y="1300" font-size="18">Ĉ×Ĥ×Ŵ</text>
<text x="1979" y="1519" font-size="50" font-weight="bold" textLength="1299" lengthAdjust="spacingAndGlyphs">(b) Optics-informed Chromatic Correction (OCC)</text>
</svg>
</body></html>
